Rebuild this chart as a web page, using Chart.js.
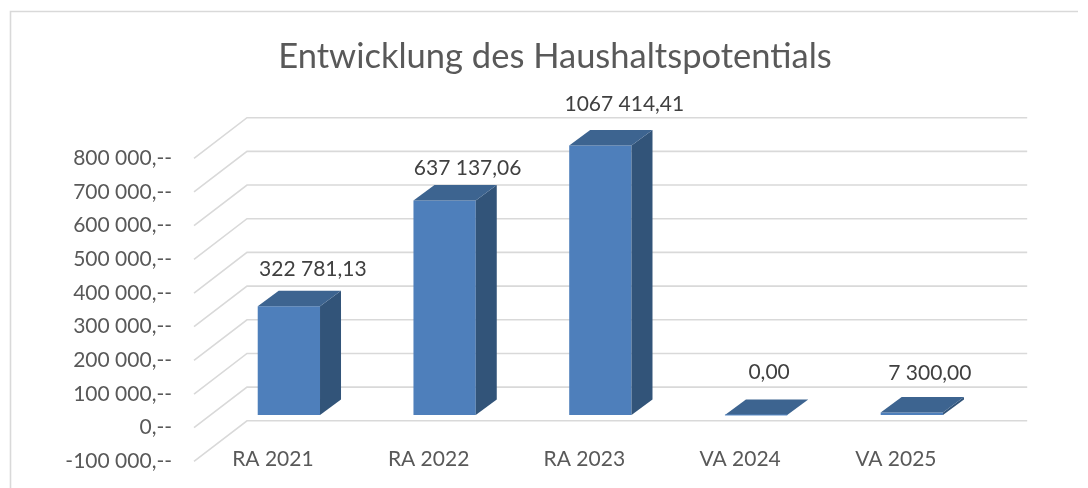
<!DOCTYPE html>
<html><head><meta charset="utf-8">
<style>html,body{margin:0;padding:0;background:#fff;overflow:hidden}canvas{display:block}</style>
<script src="https://cdn.jsdelivr.net/npm/chart.js@4"></script>
</head><body><canvas id="c" width="1088" height="488"></canvas>
<script>
const titleText = "Entwicklung des Haushaltspotentials";
const categories = ["RA 2021","RA 2022","RA 2023","VA 2024","VA 2025"];
const values = [322781.13,637137.06,1067414.41,0,7300];
const valueLabels = ["322 781,13","637 137,06","1067 414,41","0,00","7 300,00"];
const yTickLabels = ["-100 000,--","0,--","100 000,--","200 000,--","300 000,--","400 000,--","500 000,--","600 000,--","700 000,--","800 000,--"];
const yMin = -100000, yMax = 800000, yStep = 100000;
const labelLift = [37,32.5,41.6,43,39.5];
const labelShift = [24,23,24,13,18];
const FONT = "Lato, Carlito, sans-serif";

const depth3d = {
  id:'depth3d',
  beforeDraw(ch){
    const c=ch.ctx; c.save();
    c.strokeStyle='#d9d9d9'; c.lineWidth=1.6;
    c.beginPath(); c.moveTo(10.5,488); c.lineTo(10.5,11.5); c.lineTo(1078,11.5); c.stroke();
    c.restore();
  },
  beforeDatasetsDraw(ch){
    const c=ch.ctx, y=ch.scales.y, a=ch.chartArea;
    c.save(); c.strokeStyle='#d9d9d9'; c.lineWidth=1.6;
    y.ticks.forEach(t=>{
      const p=y.getPixelForValue(t.value);
      c.beginPath();
      c.moveTo(a.left-17,p+12.7);
      c.lineTo(a.left+36,p-27.9);
      c.lineTo(a.right+37.5,p-27.9);
      c.stroke();
    });
    c.restore();
  },
  afterDatasetsDraw(ch){
    const c=ch.ctx, y=ch.scales.y, meta=ch.getDatasetMeta(0), base=y.getPixelForValue(0);
    const dx=21, dy=-15.5;
    c.save();
    meta.data.forEach((b,i)=>{
      const v=Math.min(values[i],yMax), top=y.getPixelForValue(v);
      const l=b.x-b.width/2, r=b.x+b.width/2;
      if(base-top>0.5){
        c.fillStyle='#325479';
        c.beginPath(); c.moveTo(r,top); c.lineTo(r+dx,top+dy); c.lineTo(r+dx,base+dy); c.lineTo(r,base); c.closePath(); c.fill();
      }
      c.fillStyle='#3d6490';
      c.beginPath(); c.moveTo(l,top); c.lineTo(l+dx,top+dy); c.lineTo(r+dx,top+dy); c.lineTo(r,top); c.closePath(); c.fill();
      if(base-top<=0.5){
        c.strokeStyle='#5f8fca'; c.lineWidth=1;
        c.beginPath(); c.moveTo(l,top); c.lineTo(r,top); c.stroke();
      }
      c.fillStyle='#404040'; c.font='21px '+FONT; c.textAlign='center'; c.textBaseline='middle';
      c.fillText(valueLabels[i], b.x+labelShift[i], top-labelLift[i]);
    });
    c.restore();
  }
};

new Chart(document.getElementById('c'),{
  type:'bar',
  data:{labels:categories,datasets:[{data:values,backgroundColor:'#4e7fbb',borderWidth:0,barPercentage:1,categoryPercentage:0.4}]},
  plugins:[depth3d],
  options:{
    responsive:false,animation:false,
    layout:{autoPadding:false,padding:{left:22}},
    plugins:{
      legend:{display:false},tooltip:{enabled:false},
      title:{display:true,text:titleText,color:'#595959',font:{family:FONT,size:34.5,weight:'normal',lineHeight:1.2},padding:{top:36,bottom:68.2},align:'center'}
    },
    scales:{
      x:{
        grid:{display:false,drawTicks:false},border:{display:false},
        afterFit(s){s.height=39.3;},
        ticks:{color:'#595959',font:{family:FONT,size:21},padding:-2.3,labelOffset:-16,maxRotation:0,autoSkip:false}
      },
      y:{
        min:yMin,max:yMax,
        grid:{display:false,drawTicks:false},border:{display:false},
        afterFit(s){s.width=189;s.paddingTop=0;s.paddingBottom=0;},
        ticks:{stepSize:yStep,color:'#595959',font:{family:FONT,size:21},padding:39,labelOffset:12.7,
          callback(v,i){return yTickLabels[i];}}
      },
      yRight:{
        position:'right',
        grid:{display:false,drawTicks:false},border:{display:false},
        afterFit(s){s.width=98.3;s.paddingTop=0;s.paddingBottom=0;},
        ticks:{display:false}
      }
    }
  }
});
</script></body></html>
